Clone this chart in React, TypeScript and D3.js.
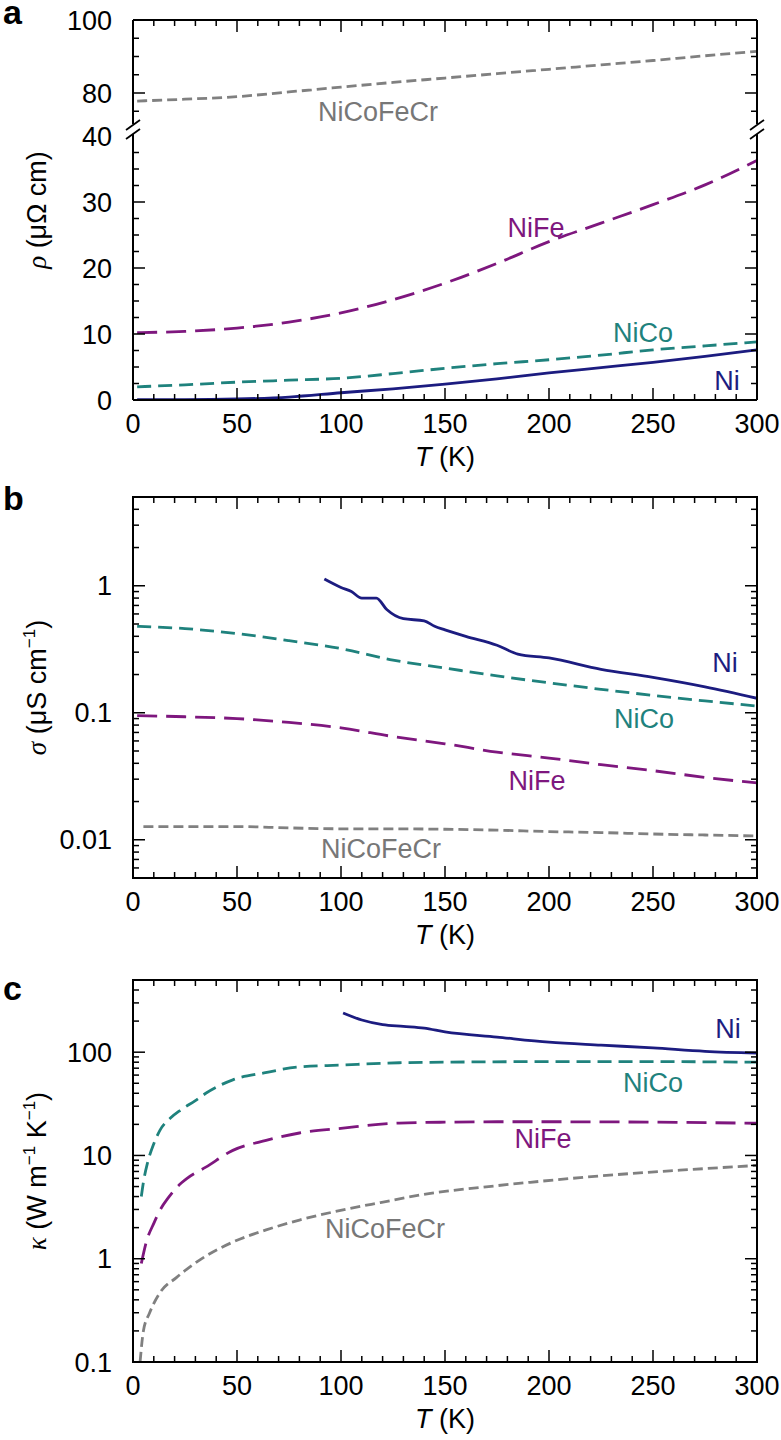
import React from 'react';
import * as d3 from 'd3';

// ---------- data ----------
const T_GRID = [2, 25, 50, 75, 100, 125, 150, 175, 200, 225, 250, 275, 300];

// panel a: resistivity (µΩ cm)
const RHO_NiCoFeCr = [77.8, 78.3, 79.0, 80.3, 81.6, 82.9, 84.1, 85.3, 86.5, 87.7, 88.9, 90.2, 91.4];
const RHO_NiFe = [10.2, 10.4, 10.9, 11.8, 13.2, 15.2, 17.7, 20.7, 24.0, 26.8, 29.6, 32.6, 36.3];
const RHO_NiCo = [2.0, 2.3, 2.7, 3.0, 3.3, 4.0, 4.8, 5.5, 6.1, 6.8, 7.6, 8.2, 8.8];
const RHO_Ni = [0.05, 0.05, 0.15, 0.45, 1.1, 1.7, 2.4, 3.2, 4.1, 4.9, 5.7, 6.6, 7.6];

// panel b: conductivity (µS cm^-1)
const T_SIG_Ni = [92, 100, 105, 110, 117, 122, 130, 140, 145, 150, 160, 175, 185, 200, 225, 250, 275, 300];
const SIG_Ni = [1.13, 0.97, 0.9, 0.8, 0.8, 0.65, 0.55, 0.53, 0.48, 0.45, 0.4, 0.34, 0.29, 0.27, 0.22, 0.19, 0.16, 0.13];
const SIG_NiCo = [0.48, 0.46, 0.42, 0.37, 0.32, 0.26, 0.225, 0.195, 0.172, 0.153, 0.137, 0.124, 0.113];
const SIG_NiFe = [0.095, 0.093, 0.09, 0.084, 0.076, 0.065, 0.057, 0.049, 0.044, 0.039, 0.035, 0.031, 0.028];
const T_SIG_HEA = [5, 25, 50, 75, 100, 125, 150, 175, 200, 225, 250, 275, 300];
const SIG_NiCoFeCr = [0.0127, 0.0127, 0.0127, 0.0124, 0.0122, 0.0122, 0.0121, 0.0119, 0.0116, 0.0114, 0.0111, 0.0109, 0.0107];

// panel c: thermal conductivity (W m^-1 K^-1)
const T_KAP_Ni = [101, 110, 120, 130, 140, 150, 175, 200, 225, 250, 275, 300];
const KAP_Ni = [240, 205, 185, 178, 171, 157, 140, 125, 117, 110, 102, 98];
const T_KAP_NiCo = [4, 5, 7, 10, 13, 18, 23, 30, 35, 48, 63, 80, 100, 128, 150, 200, 250, 300];
const KAP_NiCo = [4.0, 5.5, 8.5, 13, 17.6, 23, 27.6, 34, 40, 54, 63, 72, 75, 79, 80, 81, 81, 80];
const T_KAP_NiFe = [4, 6.6, 10, 13, 17, 21, 26, 35, 48, 64, 80, 101, 128, 150, 175, 200, 250, 300];
const KAP_NiFe = [0.9, 1.5, 2.2, 2.96, 3.9, 4.9, 6.0, 7.7, 11.2, 14, 16.5, 18.4, 20.6, 21, 21.2, 21.2, 21, 20.5];
const T_KAP_HEA = [3.4, 5, 8, 13, 21, 32, 48, 64, 80, 96, 119, 143, 167, 191, 215, 240, 263, 300];
const KAP_NiCoFeCr = [0.1, 0.2, 0.3, 0.47, 0.66, 0.97, 1.45, 1.9, 2.37, 2.83, 3.5, 4.3, 4.9, 5.5, 6.1, 6.7, 7.2, 8.0];

const X_TICK_LABELS = [0, 50, 100, 150, 200, 250, 300];
const A_UPPER_LABELS = [80, 100];
const A_LOWER_LABELS = [0, 10, 20, 30, 40];
const B_LABELS = [0.01, 0.1, 1];
const C_LABELS = [0.1, 1, 10, 100];

// ---------- styles ----------
const SANS = "'Liberation Sans', Arial, Helvetica, sans-serif";
const SERIF = "'Liberation Serif', 'DejaVu Serif', serif";
const FS = 27;
const COL = {
  Ni: '#1c1c80',
  NiCo: '#1f827d',
  NiFe: '#7e177e',
  HEA: '#808080',
};
const DASH = { Ni: undefined as string | undefined, NiCo: '14,7', NiFe: '20,9', HEA: '10,5' };
const LW = 2.8;

const X0 = 133;
const X1 = 757;
const xS = d3.scaleLinear().domain([0, 300]).range([X0, X1]);

const PA = { top: 20, bottom: 400 };
const PB = { top: 497, bottom: 878 };
const PC = { top: 980, bottom: 1362 };

const yAup = d3.scaleLinear().domain([72, 100]).range([122.2, 20]);
const yAlo = d3.scaleLinear().domain([0, 40]).range([400, 136]);
const yB = d3.scaleLog().domain([0.005, 5]).range([PB.bottom, PB.top]);
const yC = d3.scaleLog().domain([0.1, 500]).range([PC.bottom, PC.top]);

function linePath(T: number[], V: number[], y: (v: number) => number) {
  const pts = T.map((t, i) => [t, V[i]] as [number, number]);
  return d3
    .line<[number, number]>()
    .x((d) => xS(d[0]))
    .y((d) => y(d[1]))
    .curve(d3.curveMonotoneX)(pts) as string;
}

function Series({ T, V, y, k, clip }: { T: number[]; V: number[]; y: (v: number) => number; k: keyof typeof COL; clip: string }) {
  return (
    <path
      d={linePath(T, V, y)}
      fill="none"
      stroke={COL[k]}
      strokeWidth={LW}
      strokeDasharray={DASH[k]}
      clipPath={`url(#${clip})`}
    />
  );
}

function XTicks({ top, bottom }: { top: number; bottom: number }) {
  const ticks = d3.range(0, 301, 10);
  return (
    <g stroke="#000" strokeWidth={1.5}>
      {ticks.map((t) => {
        const len = t % 50 === 0 ? 12 : 6;
        return (
          <g key={t}>
            <line x1={xS(t)} x2={xS(t)} y1={bottom} y2={bottom - len} />
            <line x1={xS(t)} x2={xS(t)} y1={top} y2={top + len} />
          </g>
        );
      })}
    </g>
  );
}

function XLabels({ bottom }: { bottom: number }) {
  return (
    <g fontFamily={SANS} fontSize={FS} textAnchor="middle" fill="#000">
      {X_TICK_LABELS.map((t) => (
        <text key={t} x={xS(t)} y={bottom + 33}>
          {t}
        </text>
      ))}
      <text x={(X0 + X1) / 2} y={bottom + 66}>
        <tspan fontStyle="italic">T</tspan> (K)
      </text>
    </g>
  );
}

function YTicksAt({ vals, y, major }: { vals: number[]; y: (v: number) => number; major: boolean }) {
  const len = major ? 12 : 6;
  return (
    <g stroke="#000" strokeWidth={1.5}>
      {vals.map((v, i) => (
        <g key={i}>
          <line x1={X0} x2={X0 + len} y1={y(v)} y2={y(v)} />
          <line x1={X1} x2={X1 - len} y1={y(v)} y2={y(v)} />
        </g>
      ))}
    </g>
  );
}

function YLabels({ vals, y }: { vals: number[]; y: (v: number) => number }) {
  return (
    <g fontFamily={SANS} fontSize={FS} textAnchor="end" fill="#000">
      {vals.map((v, i) => (
        <text key={i} x={112} y={y(v)} dy="0.36em">
          {String(v)}
        </text>
      ))}
    </g>
  );
}

function logTicks(dom: [number, number]) {
  const majors: number[] = [];
  const minors: number[] = [];
  for (let e = -4; e <= 4; e++) {
    for (let m = 1; m <= 9; m++) {
      const v = m * Math.pow(10, e);
      if (v < dom[0] * 0.999 || v > dom[1] * 1.001) continue;
      if (m === 1) majors.push(v);
      else minors.push(v);
    }
  }
  return { majors, minors };
}

function CurveLabel({ x, y, text, color }: { x: number; y: number; text: string; color: string }) {
  return (
    <text x={x} y={y} fontFamily={SANS} fontSize={FS} fill={color} textAnchor="middle">
      {text}
    </text>
  );
}

export default function App() {
  const bT = logTicks([0.005, 5]);
  const cT = logTicks([0.1, 500]);
  const aUpMinor = [75, 85, 90, 95];
  const aLoMinor = d3.range(2.5, 40, 2.5).filter((v) => v % 10 !== 0);
  const brk = (x: number, yc: number) => (
    <line x1={x - 7} y1={yc + 5} x2={x + 7} y2={yc - 5} stroke="#000" strokeWidth={1.8} />
  );

  return (
    <div style={{ position: 'absolute', left: 0, top: 0 }}>
      <svg width={781} height={1440} viewBox="0 0 781 1440" style={{ display: 'block', background: '#fff' }}>
        <defs>
          <clipPath id="clipAup">
            <rect x={X0} y={PA.top} width={X1 - X0} height={122 - PA.top} />
          </clipPath>
          <clipPath id="clipAlo">
            <rect x={X0} y={136} width={X1 - X0} height={PA.bottom - 136} />
          </clipPath>
          <clipPath id="clipB">
            <rect x={X0} y={PB.top} width={X1 - X0} height={PB.bottom - PB.top} />
          </clipPath>
          <clipPath id="clipC">
            <rect x={X0} y={PC.top} width={X1 - X0} height={PC.bottom - PC.top} />
          </clipPath>
        </defs>
        <rect x={0} y={0} width={781} height={1440} fill="#fff" />

        {/* ---------- panel a ---------- */}
        <text x={3} y={24} fontFamily={SANS} fontWeight="bold" fontSize={34}>a</text>
        <Series T={T_GRID} V={RHO_NiCoFeCr} y={yAup} k="HEA" clip="clipAup" />
        <Series T={T_GRID} V={RHO_NiFe} y={yAlo} k="NiFe" clip="clipAlo" />
        <Series T={T_GRID} V={RHO_NiCo} y={yAlo} k="NiCo" clip="clipAlo" />
        <Series T={T_GRID} V={RHO_Ni} y={yAlo} k="Ni" clip="clipAlo" />
        <g stroke="#000" strokeWidth={2} fill="none">
          <line x1={X0} x2={X1} y1={PA.top} y2={PA.top} />
          <line x1={X0} x2={X1} y1={PA.bottom} y2={PA.bottom} />
          <line x1={X0} x2={X0} y1={PA.top} y2={124} />
          <line x1={X0} x2={X0} y1={134} y2={PA.bottom} />
          <line x1={X1} x2={X1} y1={PA.top} y2={124} />
          <line x1={X1} x2={X1} y1={134} y2={PA.bottom} />
        </g>
        {brk(X0, 125)}
        {brk(X0, 134)}
        {brk(X1, 125)}
        {brk(X1, 134)}
        <XTicks top={PA.top} bottom={PA.bottom} />
        <YTicksAt vals={A_UPPER_LABELS} y={yAup} major />
        <YTicksAt vals={aUpMinor} y={yAup} major={false} />
        <YTicksAt vals={A_LOWER_LABELS.filter((v) => v !== 40)} y={yAlo} major />
        <YTicksAt vals={aLoMinor} y={yAlo} major={false} />
        <YLabels vals={A_UPPER_LABELS} y={yAup} />
        <YLabels vals={A_LOWER_LABELS} y={yAlo} />
        <XLabels bottom={PA.bottom} />
        <text transform={`translate(46, ${(PA.top + PA.bottom) / 2}) rotate(-90)`} textAnchor="middle" fontFamily={SANS} fontSize={FS}>
          <tspan fontFamily={SERIF} fontStyle="italic">ρ</tspan> (μΩ cm)
        </text>
        <CurveLabel x={378} y={121} text="NiCoFeCr" color="#777" />
        <CurveLabel x={536} y={237} text="NiFe" color={COL.NiFe} />
        <CurveLabel x={643} y={342} text="NiCo" color={COL.NiCo} />
        <CurveLabel x={727} y={390} text="Ni" color={COL.Ni} />

        {/* ---------- panel b ---------- */}
        <text x={3} y={510} fontFamily={SANS} fontWeight="bold" fontSize={34}>b</text>
        <Series T={T_SIG_Ni} V={SIG_Ni} y={yB} k="Ni" clip="clipB" />
        <Series T={T_GRID} V={SIG_NiCo} y={yB} k="NiCo" clip="clipB" />
        <Series T={T_GRID} V={SIG_NiFe} y={yB} k="NiFe" clip="clipB" />
        <Series T={T_SIG_HEA} V={SIG_NiCoFeCr} y={yB} k="HEA" clip="clipB" />
        <rect x={X0} y={PB.top} width={X1 - X0} height={PB.bottom - PB.top} fill="none" stroke="#000" strokeWidth={2} />
        <XTicks top={PB.top} bottom={PB.bottom} />
        <YTicksAt vals={bT.majors} y={yB} major />
        <YTicksAt vals={bT.minors} y={yB} major={false} />
        <YLabels vals={B_LABELS} y={yB} />
        <XLabels bottom={PB.bottom} />
        <text transform={`translate(46, ${(PB.top + PB.bottom) / 2}) rotate(-90)`} textAnchor="middle" fontFamily={SANS} fontSize={FS}>
          <tspan fontFamily={SERIF} fontStyle="italic">σ</tspan> (μS cm
          <tspan fontSize={17} dy={-11}>−1</tspan>
          <tspan dy={11}>)</tspan>
        </text>
        <CurveLabel x={725} y={672} text="Ni" color={COL.Ni} />
        <CurveLabel x={644} y={728} text="NiCo" color={COL.NiCo} />
        <CurveLabel x={537} y={790} text="NiFe" color={COL.NiFe} />
        <CurveLabel x={381} y={858} text="NiCoFeCr" color="#777" />

        {/* ---------- panel c ---------- */}
        <text x={3} y={1000} fontFamily={SANS} fontWeight="bold" fontSize={34}>c</text>
        <Series T={T_KAP_Ni} V={KAP_Ni} y={yC} k="Ni" clip="clipC" />
        <Series T={T_KAP_NiCo} V={KAP_NiCo} y={yC} k="NiCo" clip="clipC" />
        <Series T={T_KAP_NiFe} V={KAP_NiFe} y={yC} k="NiFe" clip="clipC" />
        <Series T={T_KAP_HEA} V={KAP_NiCoFeCr} y={yC} k="HEA" clip="clipC" />
        <rect x={X0} y={PC.top} width={X1 - X0} height={PC.bottom - PC.top} fill="none" stroke="#000" strokeWidth={2} />
        <XTicks top={PC.top} bottom={PC.bottom} />
        <YTicksAt vals={cT.majors} y={yC} major />
        <YTicksAt vals={cT.minors} y={yC} major={false} />
        <YLabels vals={C_LABELS} y={yC} />
        <XLabels bottom={PC.bottom} />
        <text transform={`translate(46, ${(PC.top + PC.bottom) / 2}) rotate(-90)`} textAnchor="middle" fontFamily={SANS} fontSize={FS}>
          <tspan fontFamily={SERIF} fontStyle="italic">κ</tspan> (W m
          <tspan fontSize={17} dy={-11}>−1</tspan>
          <tspan dy={11}> K</tspan>
          <tspan fontSize={17} dy={-11}>−1</tspan>
          <tspan dy={11}>)</tspan>
        </text>
        <CurveLabel x={728} y={1038} text="Ni" color={COL.Ni} />
        <CurveLabel x={653} y={1092} text="NiCo" color={COL.NiCo} />
        <CurveLabel x={543} y={1148} text="NiFe" color={COL.NiFe} />
        <CurveLabel x={385} y={1238} text="NiCoFeCr" color="#777" />
      </svg>
    </div>
  );
}
